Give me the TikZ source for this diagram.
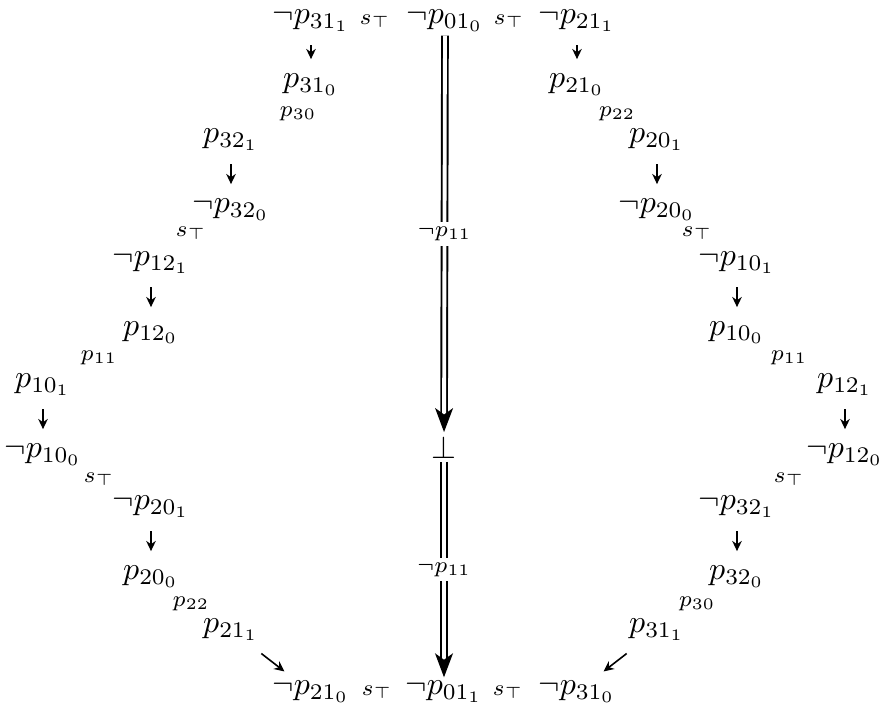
\documentclass[tikz,border=0pt]{standalone}
\usepackage{amsmath}
\usepackage{amssymb}
\usetikzlibrary{arrows.meta}

\begin{document}
\begin{tikzpicture}[x=0.011cm, y=-0.011cm,
  lit/.style={inner sep=1pt},
  lab/.style={inner sep=0pt},
  short/.style={-{Stealth[length=3.2pt, width=3pt]}, line width=0.5pt,
    shorten <=3pt, shorten >=3.5pt},
  slant/.style={short, shorten <=4.5pt, shorten >=3pt},
  imp/.style={double, double distance=1.2pt, line width=0.6pt,
    -{Stealth[length=7.5pt, width=5.6pt, inset=2pt]}}]

% Frame
\useasboundingbox (0,0) rectangle (881,717);

% Top row
\node[lit] (t1) at (311,21) {$\neg p_{31_1}$};
\node[lab] (ts1) at (375,21) {$\scriptstyle s_\top$};
\node[lit] (t0) at (445,21) {$\neg p_{01_0}$};
\node[lab] (ts2) at (509,21) {$\scriptstyle s_\top$};
\node[lit] (t2) at (577,21) {$\neg p_{21_1}$};

% Left chain
\node[lit] (l1) at (311,85) {$p_{31_0}$};
\node[lab] (ls1) at (298,114) {$\scriptstyle p_{30}$};
\node[lit] (l2) at (231,140) {$p_{32_1}$};
\node[lit] (l3) at (231,210) {$\neg p_{32_0}$};
\node[lab] (ls2) at (191,233) {$\scriptstyle s_\top$};
\node[lit] (l4) at (151,263) {$\neg p_{12_1}$};
\node[lit] (l5) at (151,333) {$p_{12_0}$};
\node[lab] (ls3) at (99,358) {$\scriptstyle p_{11}$};
\node[lit] (l6) at (43,385) {$p_{10_1}$};
\node[lit] (l7) at (43,455) {$\neg p_{10_0}$};
\node[lab] (ls4) at (99,479) {$\scriptstyle s_\top$};
\node[lit] (l8) at (151,507) {$\neg p_{20_1}$};
\node[lit] (l9) at (151,577) {$p_{20_0}$};
\node[lab] (ls5) at (191,604) {$\scriptstyle p_{22}$};
\node[lit] (l10) at (231,630) {$p_{21_1}$};

% Right chain
\node[lit] (r1) at (577,85) {$p_{21_0}$};
\node[lab] (rs1) at (617,114) {$\scriptstyle p_{22}$};
\node[lit] (r2) at (657,140) {$p_{20_1}$};
\node[lit] (r3) at (657,210) {$\neg p_{20_0}$};
\node[lab] (rs2) at (697,233) {$\scriptstyle s_\top$};
\node[lit] (r4) at (737,263) {$\neg p_{10_1}$};
\node[lit] (r5) at (737,333) {$p_{10_0}$};
\node[lab] (rs3) at (789,358) {$\scriptstyle p_{11}$};
\node[lit] (r6) at (845,385) {$p_{12_1}$};
\node[lit] (r7) at (845,455) {$\neg p_{12_0}$};
\node[lab] (rs4) at (789,479) {$\scriptstyle s_\top$};
\node[lit] (r8) at (737,507) {$\neg p_{32_1}$};
\node[lit] (r9) at (737,577) {$p_{32_0}$};
\node[lab] (rs5) at (697,604) {$\scriptstyle p_{30}$};
\node[lit] (r10) at (657,630) {$p_{31_1}$};

% Bottom row
\node[lit] (b1) at (311,692) {$\neg p_{21_0}$};
\node[lab] (bs1) at (377,692) {$\scriptstyle s_\top$};
\node[lit] (b0) at (444,692) {$\neg p_{01_1}$};
\node[lab] (bs2) at (508,692) {$\scriptstyle s_\top$};
\node[lit] (b2) at (577,692) {$\neg p_{31_0}$};

% Falsum
\node[lit] (F) at (444,447) {$\bot$};

% Short arrows
\draw[short] (t1) -- (l1);
\draw[short] (t2) -- (r1);
\draw[short] (l2) -- (l3);
\draw[short] (r2) -- (r3);
\draw[short] (l4) -- (l5);
\draw[short] (r4) -- (r5);
\draw[short] (l6) -- (l7);
\draw[short] (r6) -- (r7);
\draw[short] (l8) -- (l9);
\draw[short] (r8) -- (r9);
\draw[slant] (l10) -- (b1);
\draw[slant] (r10) -- (b2);

% Double arrows down the middle
\draw[imp] (t0) -- (F)
  node[midway, fill=white, inner sep=1.5pt] {$\scriptstyle\neg p_{11}$};
\draw[imp] (F) -- (b0)
  node[midway, fill=white, inner sep=1.5pt] {$\scriptstyle\neg p_{11}$};

\end{tikzpicture}
\end{document}
